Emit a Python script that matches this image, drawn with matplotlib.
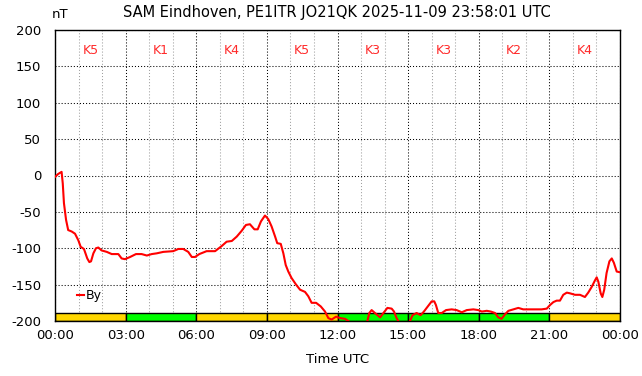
import matplotlib
matplotlib.use("Agg")
from matplotlib import pyplot as plt
from matplotlib.ticker import MultipleLocator

plt.rcParams["lines.scale_dashes"] = False

title = "SAM Eindhoven, PE1ITR JO21QK 2025-11-09 23:58:01 UTC"

# By component, hours UTC vs nT (values below -200 fall off the chart)
hours = [0.00, 0.13, 0.28, 0.33, 0.38, 0.47, 0.56, 0.71, 0.85, 0.99,
         1.09, 1.23, 1.37, 1.46, 1.53, 1.63, 1.74, 1.84, 1.98, 2.20,
         2.41, 2.69, 2.83, 2.97, 3.19, 3.44, 3.68, 3.90, 4.11, 4.32,
         4.60, 5.02, 5.24, 5.45, 5.66, 5.81, 5.95, 6.13, 6.44, 6.80,
         7.08, 7.29, 7.51, 7.72, 7.93, 8.11, 8.28, 8.47, 8.61, 8.75,
         8.92, 9.06, 9.20, 9.35, 9.44, 9.59, 9.70, 9.80, 9.91, 10.05,
         10.24, 10.41, 10.62, 10.76, 10.90, 11.09, 11.29, 11.47, 11.61, 11.75,
         11.94, 12.11, 12.32, 12.46, 12.87, 13.27, 13.35, 13.45, 13.59, 13.81,
         13.95, 14.12, 14.30, 14.40, 14.51, 14.58, 14.82, 15.08, 15.19, 15.36,
         15.53, 15.67, 15.86, 16.00, 16.11, 16.18, 16.28, 16.43, 16.61, 16.85,
         17.06, 17.28, 17.49, 17.77, 17.98, 18.13, 18.34, 18.51, 18.69, 18.83,
         18.97, 19.11, 19.26, 19.47, 19.68, 19.89, 20.10, 20.46, 20.67, 20.89,
         21.03, 21.17, 21.31, 21.45, 21.59, 21.74, 21.88, 22.09, 22.30, 22.51,
         22.65, 22.80, 22.94, 23.01, 23.08, 23.18, 23.25, 23.33, 23.43, 23.55,
         23.65, 23.74, 23.86, 24.00]
by_nt = [-2, 2, 5, -11, -38, -61, -75, -77, -80, -89,
         -98, -101, -114, -119, -118, -107, -100, -99, -103, -105,
         -108, -108, -114, -115, -112, -108, -108, -110, -108, -107,
         -105, -104, -101, -101, -105, -112, -112, -108, -104, -104,
         -97, -91, -90, -84, -76, -68, -67, -74, -74, -63,
         -55, -60, -70, -84, -93, -94, -107, -123, -132, -141,
         -150, -157, -160, -166, -175, -175, -180, -187, -196, -198,
         -194, -196, -197, -200, -212, -200, -189, -185, -189, -195,
         -189, -182, -183, -187, -196, -200, -210, -200, -192, -189,
         -192, -187, -179, -173, -173, -178, -189, -189, -185, -184,
         -185, -188, -185, -184, -185, -187, -186, -187, -189, -195,
         -197, -191, -186, -184, -182, -184, -184, -184, -184, -183,
         -178, -174, -172, -172, -164, -161, -162, -164, -164, -167,
         -161, -153, -144, -140, -146, -162, -167, -157, -134, -118,
         -114, -120, -132, -133]

# 3-hour K index blocks
k_start = [0, 3, 6, 9, 12, 15, 18, 21]
k_index = [5, 1, 4, 5, 3, 3, 2, 4]

xtick_labels = ["00:00", "03:00", "06:00", "09:00", "12:00",
                "15:00", "18:00", "21:00", "00:00"]

fig = plt.figure(figsize=(6.42, 3.76), dpi=100)
ax = fig.add_axes([55 / 642, 55 / 376, 565 / 642, 291 / 376])

dots = (0, (0.75, 1.45))
ax.xaxis.set_major_locator(MultipleLocator(3))
ax.xaxis.set_minor_locator(MultipleLocator(1))
ax.yaxis.set_major_locator(MultipleLocator(50))
ax.grid(which="minor", axis="x", color="#a0a0a0", linestyle=dots, linewidth=0.75)
ax.grid(which="major", color="black", linestyle=dots, linewidth=0.75)
ax.set_axisbelow(True)

colors = ["#ffd700" if k >= 4 else "#00ff00" for k in k_index]
ax.bar(k_start, 10.5, width=3, bottom=-200, align="edge",
       color=colors, edgecolor="black", linewidth=1, zorder=2)

for s, k in zip(k_start, k_index):
    ax.text(s + 1.5, 172, f"K{k}", color="#ff2a2a", fontsize=9,
            ha="center", va="center")

ax.plot(hours, by_nt, color="red", linewidth=1.5, label="By", zorder=3)

ax.set_xlim(0, 24)
ax.set_ylim(-200, 200)
ax.set_xticks(range(0, 25, 3))
ax.set_xticklabels(xtick_labels)
ax.set_yticks(range(-200, 201, 50))
ax.set_yticklabels([str(v) for v in range(-200, 201, 50)])
ax.tick_params(which="both", length=0, labelsize=9.5)
ax.tick_params(axis="x", pad=6)
ax.tick_params(axis="y", pad=10)
for sp in ax.spines.values():
    sp.set_linewidth(1)

ax.set_xlabel("Time UTC", fontsize=9.5, labelpad=8)
fig.text(60 / 642, 1 - 15 / 376, "nT", fontsize=9.5, ha="center", va="center")
fig.text(337 / 642, 1 - 12 / 376, title, fontsize=10.5, ha="center", va="center")

ax.legend(loc="center left", bbox_to_anchor=(0.03, 0.086), frameon=False,
          handlelength=0.6, handletextpad=0.1, fontsize=9, borderaxespad=0)

fig.savefig("out.png", dpi=100)
